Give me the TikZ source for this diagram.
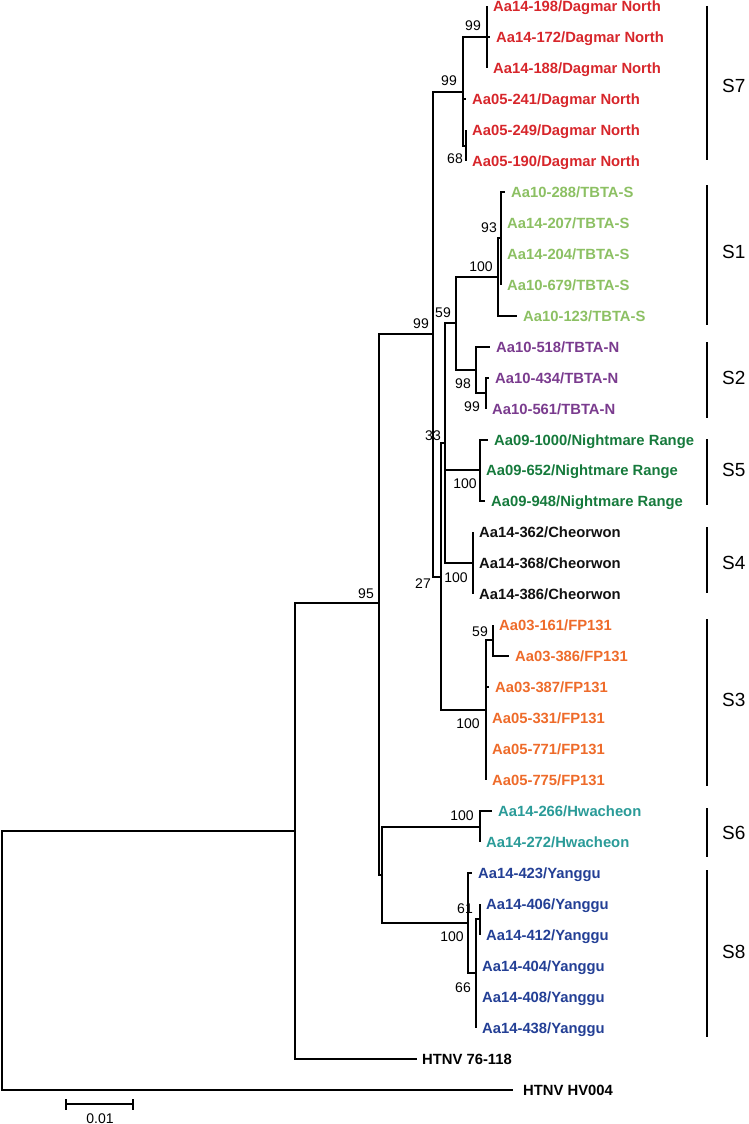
\documentclass[tikz,border=0pt]{standalone}
\usepackage{fontspec}
\setmainfont{Liberation Sans}
\definecolor{cS7}{HTML}{D7262B}
\definecolor{cS1}{HTML}{8CC063}
\definecolor{cS2}{HTML}{7A3B8E}
\definecolor{cS5}{HTML}{167A3C}
\definecolor{cS4}{HTML}{111111}
\definecolor{cS3}{HTML}{EE6B2A}
\definecolor{cS6}{HTML}{2A9B98}
\definecolor{cS8}{HTML}{233F95}
\begin{document}
\begin{tikzpicture}[x=1pt,y=-1pt,
  br/.style={line width=1.6pt},
  leaf/.style={anchor=west, inner xsep=6pt, inner ysep=0pt, text height=10.6pt, text depth=0pt,
    font=\fontsize{14.8}{16}\selectfont\bfseries, text=#1},
  bs/.style={inner sep=0pt, text height=10pt, text depth=0pt, font=\fontsize{14}{16}\selectfont},
  clade/.style={anchor=west, inner sep=0pt, text height=13.6pt, text depth=0pt, font=\fontsize{19}{21}\selectfont},
  bar/.style={line width=1.6pt}]
\useasboundingbox (0,0) rectangle (748,1124);

% internal nodes
\coordinate (R0) at (2,961);
\coordinate (A) at (295,831);
\coordinate (C) at (379,603);
\coordinate (E) at (382,875);
\coordinate (D) at (433,334);
\coordinate (S7n) at (463,92);
\coordinate (N99b) at (487,37);
\coordinate (N68) at (466,146);
\coordinate (N27) at (441,577);
\coordinate (N33) at (445,443);
\coordinate (N59) at (456,323);
\coordinate (S1n) at (498,277);
\coordinate (N93) at (501,238);
\coordinate (S2n) at (476,370);
\coordinate (N99c) at (486,393);
\coordinate (S5n) at (480,470);
\coordinate (S4n) at (473,563);
\coordinate (S3n) at (486,710);
\coordinate (N59b) at (493,640);
\coordinate (S6n) at (480,827);
\coordinate (S8n) at (468,923);
\coordinate (N66) at (476,973);
\coordinate (N61) at (480,919);

% leaves
\node[leaf=cS7] (l1) at (487,6) {Aa14-198/Dagmar North};
\node[leaf=cS7] (l2) at (490,37) {Aa14-172/Dagmar North};
\node[leaf=cS7] (l3) at (487,68) {Aa14-188/Dagmar North};
\node[leaf=cS7] (l4) at (466,99) {Aa05-241/Dagmar North};
\node[leaf=cS7] (l5) at (466,130) {Aa05-249/Dagmar North};
\node[leaf=cS7] (l6) at (466,161) {Aa05-190/Dagmar North};
\node[leaf=cS1] (l7) at (505,192) {Aa10-288/TBTA-S};
\node[leaf=cS1] (l8) at (501,223) {Aa14-207/TBTA-S};
\node[leaf=cS1] (l9) at (501,254) {Aa14-204/TBTA-S};
\node[leaf=cS1] (l10) at (501,285) {Aa10-679/TBTA-S};
\node[leaf=cS1] (l11) at (517,316) {Aa10-123/TBTA-S};
\node[leaf=cS2] (l12) at (490,347) {Aa10-518/TBTA-N};
\node[leaf=cS2] (l13) at (489,378) {Aa10-434/TBTA-N};
\node[leaf=cS2] (l14) at (486,409) {Aa10-561/TBTA-N};
\node[leaf=cS5] (l15) at (488,440) {Aa09-1000/Nightmare Range};
\node[leaf=cS5] (l16) at (480,470) {Aa09-652/Nightmare Range};
\node[leaf=cS5] (l17) at (485,501) {Aa09-948/Nightmare Range};
\node[leaf=cS4] (l18) at (473,532) {Aa14-362/Cheorwon};
\node[leaf=cS4] (l19) at (473,563) {Aa14-368/Cheorwon};
\node[leaf=cS4] (l20) at (473,594) {Aa14-386/Cheorwon};
\node[leaf=cS3] (l21) at (493,625) {Aa03-161/FP131};
\node[leaf=cS3] (l22) at (509,656) {Aa03-386/FP131};
\node[leaf=cS3] (l23) at (489,687) {Aa03-387/FP131};
\node[leaf=cS3] (l24) at (486,718) {Aa05-331/FP131};
\node[leaf=cS3] (l25) at (486,749) {Aa05-771/FP131};
\node[leaf=cS3] (l26) at (486,780) {Aa05-775/FP131};
\node[leaf=cS6] (l27) at (492,811) {Aa14-266/Hwacheon};
\node[leaf=cS6] (l28) at (480,842) {Aa14-272/Hwacheon};
\node[leaf=cS8] (l29) at (472,873) {Aa14-423/Yanggu};
\node[leaf=cS8] (l30) at (480,904) {Aa14-406/Yanggu};
\node[leaf=cS8] (l31) at (480,935) {Aa14-412/Yanggu};
\node[leaf=cS8] (l32) at (476,966) {Aa14-404/Yanggu};
\node[leaf=cS8] (l33) at (476,997) {Aa14-408/Yanggu};
\node[leaf=cS8] (l34) at (476,1028) {Aa14-438/Yanggu};
\node[leaf=black, inner xsep=5pt] (l35) at (417,1059) {HTNV 76-118};
\node[leaf=black, inner xsep=10pt] (l36) at (513,1090) {HTNV HV004};

% branches
\draw[br] (R0) |- (A);
\draw[br] (R0) |- (l36.west);
\draw[br] (A) |- (C);
\draw[br] (A) |- (l35.west);
\draw[br] (C) |- (D);
\draw[br] (C) |- (E);
\draw[br] (D) |- (S7n);
\draw[br] (D) |- (N27);
\draw[br] (S7n) |- (N99b);
\draw[br] (S7n) |- (l4.west);
\draw[br] (S7n) |- (N68);
\draw[br] (N99b) |- (l1.west);
\draw[br] (N99b) |- (l2.west);
\draw[br] (N99b) |- (l3.west);
\draw[br] (N68) |- (l5.west);
\draw[br] (N68) |- (l6.west);
\draw[br] (N27) |- (N33);
\draw[br] (N27) |- (S3n);
\draw[br] (N33) |- (N59);
\draw[br] (N33) |- (S5n);
\draw[br] (N33) |- (S4n);
\draw[br] (N59) |- (S1n);
\draw[br] (N59) |- (S2n);
\draw[br] (S1n) |- (N93);
\draw[br] (S1n) |- (l11.west);
\draw[br] (N93) |- (l7.west);
\draw[br] (N93) |- (l8.west);
\draw[br] (N93) |- (l9.west);
\draw[br] (N93) |- (l10.west);
\draw[br] (S2n) |- (l12.west);
\draw[br] (S2n) |- (N99c);
\draw[br] (N99c) |- (l13.west);
\draw[br] (N99c) |- (l14.west);
\draw[br] (S5n) |- (l15.west);
\draw[br] (S5n) |- (l16.west);
\draw[br] (S5n) |- (l17.west);
\draw[br] (S4n) |- (l18.west);
\draw[br] (S4n) |- (l19.west);
\draw[br] (S4n) |- (l20.west);
\draw[br] (S3n) |- (N59b);
\draw[br] (S3n) |- (l23.west);
\draw[br] (S3n) |- (l24.west);
\draw[br] (S3n) |- (l25.west);
\draw[br] (S3n) |- (l26.west);
\draw[br] (N59b) |- (l21.west);
\draw[br] (N59b) |- (l22.west);
\draw[br] (E) |- (S6n);
\draw[br] (E) |- (S8n);
\draw[br] (S6n) |- (l27.west);
\draw[br] (S6n) |- (l28.west);
\draw[br] (S8n) |- (l29.west);
\draw[br] (S8n) |- (N66);
\draw[br] (N66) |- (N61);
\draw[br] (N66) |- (l32.west);
\draw[br] (N66) |- (l33.west);
\draw[br] (N66) |- (l34.west);
\draw[br] (N61) |- (l30.west);
\draw[br] (N61) |- (l31.west);

% bootstrap values
\node[bs] (b1) at (449,80) {99};
\node[bs] (b2) at (473,26) {99};
\node[bs] (b3) at (455,158) {68};
\node[bs] (b4) at (489,227) {93};
\node[bs] (b5) at (481,266) {100};
\node[bs] (b6) at (443,312) {59};
\node[bs] (b7) at (421,323) {99};
\node[bs] (b8) at (463,383) {98};
\node[bs] (b9) at (472,406) {99};
\node[bs] (b10) at (433,435) {33};
\node[bs] (b11) at (465,483) {100};
\node[bs] (b12) at (456,577) {100};
\node[bs] (b13) at (423,583) {27};
\node[bs] (b14) at (366,593) {95};
\node[bs] (b15) at (480,631) {59};
\node[bs] (b16) at (468,723) {100};
\node[bs] (b17) at (462,815) {100};
\node[bs] (b18) at (465,908) {61};
\node[bs] (b19) at (452,936) {100};
\node[bs] (b20) at (463,987) {66};

% clade bars
\foreach \nm/\ya/\yb/\yl in {S7/6/160/86, S1/185/325/252, S2/342/418/378, S5/439/505/470,
  S4/527/593/563, S3/619/786/700, S6/808/857/833, S8/870/1037/952}{
  \coordinate (t\nm) at (707,\ya);
  \coordinate (u\nm) at (707,\yb);
  \draw[bar] (t\nm) -- (u\nm);
  \node[clade] (c\nm) at (722,\yl) {\nm};
}

% scale bar
\coordinate (sa) at (66,1104);
\coordinate (sb) at (133,1104);
\coordinate (sa1) at (66,1099);
\coordinate (sa2) at (66,1110);
\coordinate (sb1) at (133,1099);
\coordinate (sb2) at (133,1110);
\draw[br] (sa) -- (sb);
\draw[br] (sa1) -- (sa2);
\draw[br] (sb1) -- (sb2);
\node[bs] (scl) at (100,1118) {0.01};
\end{tikzpicture}
\end{document}
